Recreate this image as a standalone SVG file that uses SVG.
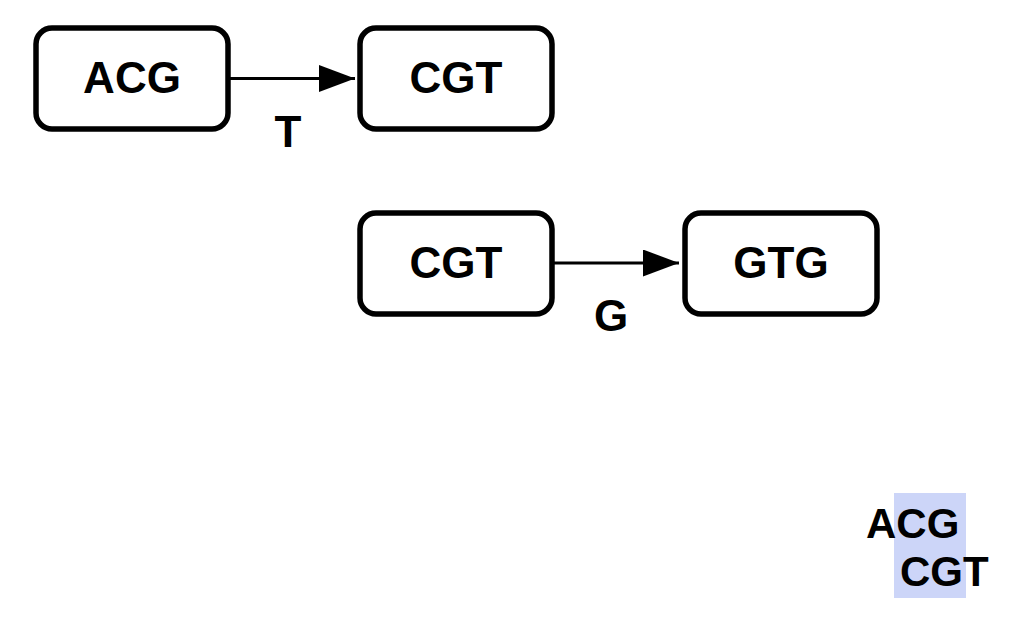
<svg xmlns="http://www.w3.org/2000/svg" width="1024" height="634" viewBox="0 0 1024 634">
<style>
.box{fill:#fff;stroke:#000;stroke-width:5.5}
.lbl{font-family:"Liberation Sans",Arial,Helvetica,sans-serif;font-weight:bold;font-size:44px;fill:#000;text-anchor:middle}
.edge{stroke:#000;stroke-width:3;fill:none}
.seq{font-family:"Liberation Sans",Arial,Helvetica,sans-serif;font-weight:bold;font-size:42px;fill:#000}
</style>
<defs>
<marker id="arr" markerUnits="userSpaceOnUse" markerWidth="36" markerHeight="28" refX="36" refY="13.5" orient="auto">
<path d="M0,0 L36,13.5 L0,27 z" fill="#000"/>
</marker>
</defs>
<rect width="1024" height="634" fill="#fff"/>
<g id="connectors">
<line class="edge" x1="228" y1="78.5" x2="355" y2="78.5" marker-end="url(#arr)"/>
<text class="lbl" x="288" y="147">T</text>
<line class="edge" x1="552" y1="263" x2="679" y2="263" marker-end="url(#arr)"/>
<text class="lbl" x="611" y="331">G</text>
</g>
<g id="node-acg">
<rect class="box" x="36" y="28" width="192" height="101" rx="16"/>
<text class="lbl" x="132" y="93">ACG</text>
</g>
<g id="node-cgt1">
<rect class="box" x="360" y="28" width="192" height="101" rx="16"/>
<text class="lbl" x="456" y="93">CGT</text>
</g>
<g id="node-cgt2">
<rect class="box" x="360" y="213" width="192" height="101" rx="16"/>
<text class="lbl" x="456" y="278">CGT</text>
</g>
<g id="node-gtg">
<rect class="box" x="685" y="213" width="192" height="101" rx="16"/>
<text class="lbl" x="781" y="278">GTG</text>
</g>
<g id="overlap">
<rect x="894" y="493" width="72" height="105" fill="#ccd5f8"/>
<text class="seq" x="866" y="538">ACG</text>
<text class="seq" x="900" y="586">CGT</text>
</g>
</svg>
